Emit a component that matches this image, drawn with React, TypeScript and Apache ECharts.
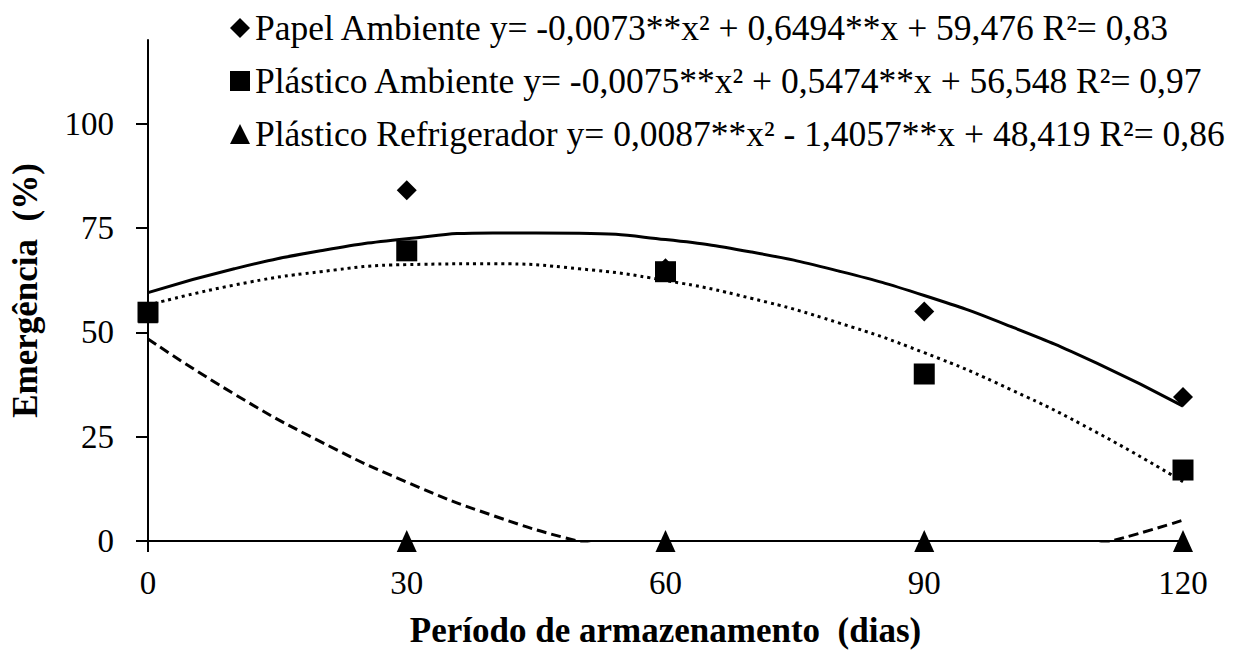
import React, { useEffect, useRef } from "react";
import * as echarts from "echarts";

// Observed points (days of storage)
const days = [0, 30, 60, 90, 120];
const papelAmbiente = [54.8, 84, 65.3, 55, 34.5];
const plasticoAmbiente = [54.8, 69.5, 64.5, 40, 17];
const plasticoRefrigerador = [54.8, 0, 0, 0, 0];

// Trend lines (every 10 days)
const fitDays = [0, 10, 20, 30, 40, 50, 60, 70, 80, 90, 100, 110, 120];
const papelFit = [59.5, 65.2, 69.5, 72.4, 73.8, 73.7, 72.2, 69.2, 64.7, 58.8, 51.4, 42.6, 32.3];
const plasticoFit = [56.5, 61.3, 64.5, 66.2, 66.4, 65.2, 62.4, 58.1, 52.3, 45.1, 36.3, 26.0, 14.2];
const refrigFit = [48.4, 35.2, 23.8, 14.1, 6.1, -0.1, -4.6, -7.4, -8.4, -7.6, -5.2, -0.9, 5.0];

const yTicks = [0, 25, 50, 75, 100];

const legendNames = [
  "Papel Ambiente y= -0,0073**x² + 0,6494**x + 59,476 R²= 0,83",
  "Plástico Ambiente y= -0,0075**x² + 0,5474**x + 56,548 R²= 0,97",
  "Plástico Refrigerador y= 0,0087**x² - 1,4057**x + 48,419 R²= 0,86",
];

const FONT = "Liberation Serif, serif";

const pairs = (xs: number[], ys: number[]) => xs.map((x, i) => [x, ys[i]]);

export default function App() {
  const ref = useRef<HTMLDivElement>(null);

  useEffect(() => {
    if (!ref.current) return;
    const chart = echarts.init(ref.current, null, { renderer: "svg" });
    const option: any = {
      animation: false,
      backgroundColor: "#fff",
      textStyle: { fontFamily: FONT },
      grid: { left: 148, right: 50, top: 40, bottom: 110, containLabel: false },
      legend: {
        orient: "vertical",
        left: 225,
        top: 5,
        itemWidth: 20,
        itemHeight: 20,
        itemGap: 17,
        selectedMode: false,
        itemStyle: { opacity: 1, color: "#000" },
        textStyle: { fontSize: 35.5, fontFamily: FONT, color: "#000", lineHeight: 36 },
        data: [
          { name: legendNames[0], icon: "diamond" },
          { name: legendNames[1], icon: "rect" },
          { name: legendNames[2], icon: "triangle" },
        ],
      },
      xAxis: {
        type: "value",
        min: 0,
        max: 120,
        interval: 30,
        name: "Período de armazenamento  (dias)",
        nameLocation: "middle",
        nameGap: 72,
        nameTextStyle: { fontSize: 35, fontWeight: "bold", fontFamily: FONT, color: "#000" },
        axisLine: { show: true, lineStyle: { color: "#000", width: 2 } },
        axisTick: { show: true, length: 11, lineStyle: { color: "#000", width: 2 } },
        axisLabel: { margin: 25, fontSize: 33, fontFamily: FONT, color: "#000" },
        splitLine: { show: false },
      },
      yAxis: {
        type: "value",
        min: 0,
        max: 120,
        interval: 25,
        name: "Emergência  (%)",
        nameLocation: "middle",
        nameGap: 105,
        nameTextStyle: { fontSize: 35, fontWeight: "bold", fontFamily: FONT, color: "#000" },
        axisLine: { show: true, lineStyle: { color: "#000", width: 2 } },
        axisTick: { show: true, length: 12, customValues: yTicks, lineStyle: { color: "#000", width: 2 } },
        axisLabel: { margin: 34, customValues: yTicks, fontSize: 33, fontFamily: FONT, color: "#000" },
        splitLine: { show: false },
      },
      series: [
        {
          name: "fit-papel",
          type: "line",
          data: pairs(fitDays, papelFit),
          smooth: true,
          symbol: "none",
          silent: true,
          z: 2,
          lineStyle: { color: "#000", width: 3, type: "solid" },
        },
        {
          name: "fit-plastico",
          type: "line",
          data: pairs(fitDays, plasticoFit),
          smooth: true,
          symbol: "none",
          silent: true,
          z: 2,
          lineStyle: { color: "#000", width: 3, type: [3, 4] },
        },
        {
          name: "fit-refrig",
          type: "line",
          data: pairs(fitDays, refrigFit),
          smooth: true,
          symbol: "none",
          silent: true,
          clip: true,
          z: 2,
          lineStyle: { color: "#000", width: 3, type: [10, 5] },
        },
        {
          name: legendNames[0],
          type: "scatter",
          data: pairs(days, papelAmbiente),
          symbol: "diamond",
          symbolSize: 20,
          z: 3,
          itemStyle: { color: "#000", opacity: 1 },
        },
        {
          name: legendNames[2],
          type: "scatter",
          data: pairs(days, plasticoRefrigerador),
          symbol: "triangle",
          symbolSize: [20, 22],
          z: 4,
          itemStyle: { color: "#000", opacity: 1 },
        },
        {
          name: legendNames[1],
          type: "scatter",
          data: pairs(days, plasticoAmbiente),
          symbol: "rect",
          symbolSize: 21,
          z: 5,
          itemStyle: { color: "#000", opacity: 1 },
        },
      ],
    };
    chart.setOption(option);
    return () => chart.dispose();
  }, []);

  return (
    <div
      ref={ref}
      style={{ position: "fixed", left: 0, top: 0, width: 1233, height: 653, background: "#fff" }}
    />
  );
}
